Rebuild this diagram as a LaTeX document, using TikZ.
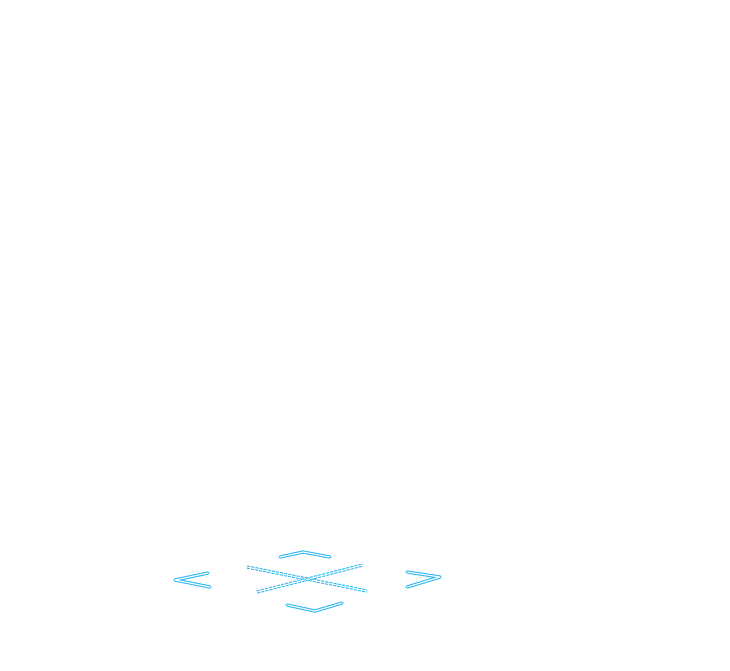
\documentclass[tikz,border=0pt]{standalone}
\begin{document}
\begin{tikzpicture}[x=1pt,y=-1pt,
  glyph/.style={draw={rgb,255:red,50;green,185;blue,240}, line width=1.1pt, double=white, double distance=1.1pt, line cap=round, line join=round},
  crossline/.style={glyph, line cap=butt, dash pattern=on 3pt off 1.2pt}]
\useasboundingbox[fill=white] (0,0) rectangle (730,670);
\coordinate (l1) at (208,573); \coordinate (l2) at (175,580); \coordinate (l3) at (210,587);
\coordinate (t1) at (280,557); \coordinate (t2) at (303,552); \coordinate (t3) at (330,557);
\coordinate (r1) at (407,572); \coordinate (r2) at (440,577); \coordinate (r3) at (407,587);
\coordinate (b1) at (287,605); \coordinate (b2) at (315,611); \coordinate (b3) at (342,603);
\coordinate (c1) at (247,567); \coordinate (c2) at (367,591);
\coordinate (c3) at (257,592); \coordinate (c4) at (363,565);
\draw[glyph] (l1) -- (l2) -- (l3);
\draw[glyph] (t1) -- (t2) -- (t3);
\draw[glyph] (r1) -- (r2) -- (r3);
\draw[glyph] (b1) -- (b2) -- (b3);
\draw[crossline] (c1) -- (c2);
\draw[crossline] (c3) -- (c4);
\end{tikzpicture}
\end{document}
